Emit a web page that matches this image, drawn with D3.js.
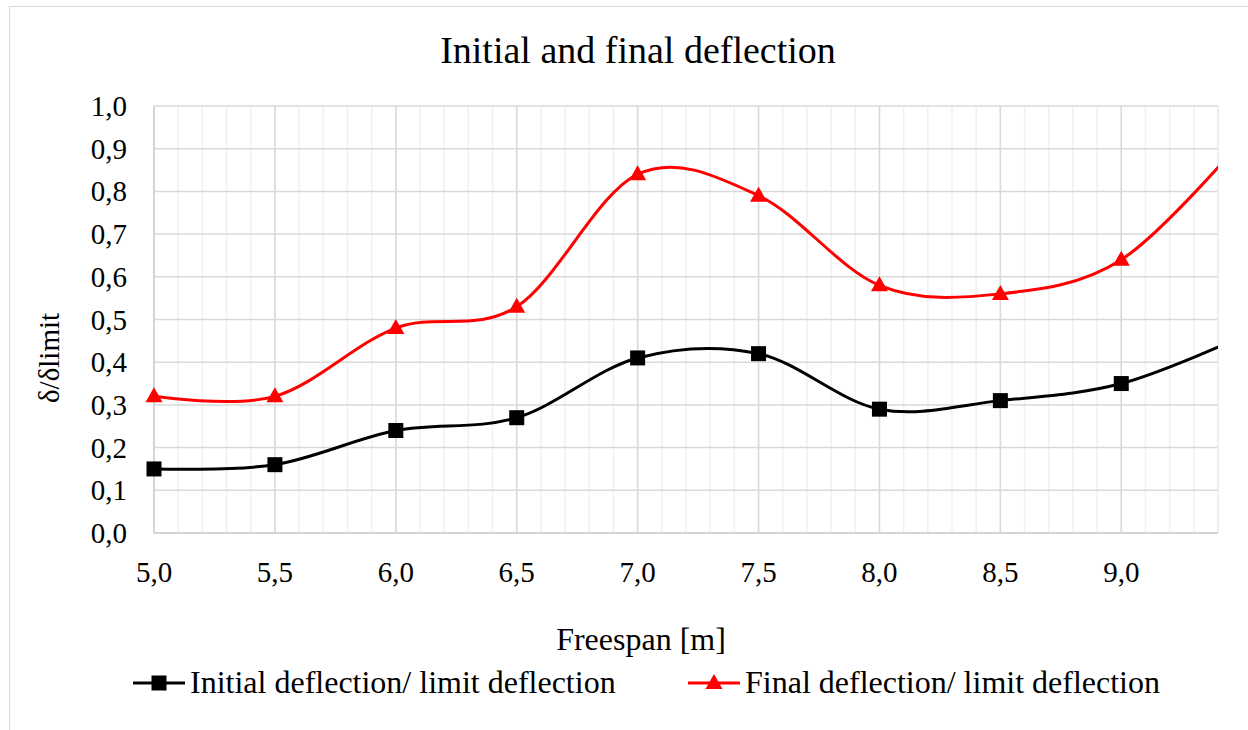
<!DOCTYPE html>
<html>
<head>
<meta charset="utf-8">
<script src="https://cdn.jsdelivr.net/npm/d3@7"></script>
<style>
  body { margin: 0; background: #fff; }
</style>
</head>
<body>
<svg id="chart"></svg>
<script>
let svgWidth = 1248, svgHeight = 730
let margin = { left: 154, right: 1218, top: 106, bottom: 533 }
let serif = "'Liberation Serif', 'Times New Roman', Times, 'DejaVu Serif', serif"

// data
let freespan = [5.0, 5.5, 6.0, 6.5, 7.0, 7.5, 8.0, 8.5, 9.0, 9.5]
let initialRatio = [0.15, 0.16, 0.24, 0.27, 0.41, 0.42, 0.29, 0.31, 0.35, 0.46]
let finalRatio = [0.32, 0.32, 0.48, 0.53, 0.84, 0.79, 0.58, 0.56, 0.64, 0.92]
let yTicks = [0, 0.1, 0.2, 0.3, 0.4, 0.5, 0.6, 0.7, 0.8, 0.9, 1.0]
let xTicks = [5.0, 5.5, 6.0, 6.5, 7.0, 7.5, 8.0, 8.5, 9.0]
let xMinor = d3.range(50, 95, 1).map(d => d / 10)

let svg = d3.select('#chart').attr('width', svgWidth).attr('height', svgHeight)

// chart border
svg.append('rect')
  .attr('x', 9.5).attr('y', 6.5).attr('width', 1300).attr('height', 800)
  .attr('fill', 'none').attr('stroke', '#d9d9d9').attr('stroke-width', 1)

let x = d3.scaleLinear().domain([5.0, 9.4]).range([margin.left, margin.right])
let y = d3.scaleLinear().domain([0, 1]).range([margin.bottom, margin.top])

const fmt = d => d.toFixed(1).replace('.', ',')

let g = svg.append('g')

// minor vertical gridlines
g.selectAll('.minor').data(xMinor).enter().append('line')
  .attr('x1', d => x(d)).attr('x2', d => x(d))
  .attr('y1', margin.top).attr('y2', margin.bottom)
  .attr('stroke', '#f0f0f0').attr('stroke-width', 1.5)

// horizontal gridlines
g.selectAll('.hgrid').data(yTicks).enter().append('line')
  .attr('x1', margin.left).attr('x2', margin.right)
  .attr('y1', d => y(d)).attr('y2', d => y(d))
  .attr('stroke', '#d9d9d9').attr('stroke-width', 1.5)

// major vertical gridlines
g.selectAll('.major').data(xTicks.concat([9.4])).enter().append('line')
  .attr('x1', d => x(d)).attr('x2', d => x(d))
  .attr('y1', margin.top).attr('y2', margin.bottom)
  .attr('stroke', d => d === 9.4 ? '#ececec' : '#d9d9d9').attr('stroke-width', 1.5)

// axis lines
g.append('line').attr('x1', margin.left).attr('x2', margin.left)
  .attr('y1', margin.top).attr('y2', margin.bottom).attr('stroke', '#d0d0d0').attr('stroke-width', 1.5)
g.append('line').attr('x1', margin.left).attr('x2', margin.right)
  .attr('y1', margin.bottom).attr('y2', margin.bottom).attr('stroke', '#d0d0d0').attr('stroke-width', 1.5)

// tick labels
g.selectAll('.ylab').data(yTicks).enter().append('text')
  .attr('x', 127).attr('y', d => y(d) + 10)
  .attr('text-anchor', 'end').style('font-family', serif).style('font-size', '29px')
  .text(fmt)

g.selectAll('.xlab').data(xTicks).enter().append('text')
  .attr('x', d => x(d)).attr('y', 582)
  .attr('text-anchor', 'middle').style('font-family', serif).style('font-size', '29px')
  .text(fmt)

// titles
svg.append('text').attr('x', 638).attr('y', 63).attr('text-anchor', 'middle')
  .style('font-family', serif).style('font-size', '38px').text('Initial and final deflection')
svg.append('text').attr('x', 641).attr('y', 650).attr('text-anchor', 'middle')
  .style('font-family', serif).style('font-size', '32px').text('Freespan [m]')
svg.append('text').attr('transform', 'translate(59,358) rotate(-90)').attr('text-anchor', 'middle')
  .style('font-family', serif).style('font-size', '29px').text('δ/δlimit')

// series
svg.append('clipPath').attr('id', 'plotClip').append('rect')
  .attr('x', margin.left - 10).attr('y', margin.top - 10)
  .attr('width', margin.right - margin.left + 10).attr('height', margin.bottom - margin.top + 20)

let line = d3.line().x(d => x(d[0])).y(d => y(d[1])).curve(d3.curveCardinal.tension(0))

let series = [
  { name: 'Initial deflection/ limit deflection', values: initialRatio, color: '#000000', marker: 'square' },
  { name: 'Final deflection/ limit deflection', values: finalRatio, color: '#ff0000', marker: 'triangle' }
]

let plot = svg.append('g').attr('clip-path', 'url(#plotClip)')
let markers = svg.append('g')

const drawMarker = (sel, s) => {
  if (s.marker === 'square') {
    sel.append('rect').attr('x', -7.5).attr('y', -7.5).attr('width', 15).attr('height', 15).attr('fill', s.color)
  } else {
    sel.append('path').attr('d', 'M0,-9 L8.5,6 L-8.5,6 Z').attr('fill', s.color)
  }
}

series.forEach(s => {
  let pts = freespan.map((f, i) => [f, s.values[i]])
  plot.append('path').datum(pts)
    .attr('d', line).attr('fill', 'none')
    .attr('stroke', s.color).attr('stroke-width', 3)
  pts.filter(p => p[0] <= 9.4).forEach(p => {
    let m = markers.append('g').attr('transform', `translate(${x(p[0])},${y(p[1])})`)
    drawMarker(m, s)
  })
})

// legend
let legendX = [133, 688]
series.forEach((s, i) => {
  let lg = svg.append('g').attr('transform', `translate(${legendX[i]},683)`)
  lg.append('line').attr('x1', 0).attr('x2', 52).attr('y1', 0).attr('y2', 0)
    .attr('stroke', s.color).attr('stroke-width', 3)
  let m = lg.append('g').attr('transform', 'translate(26,0)')
  drawMarker(m, s)
  lg.append('text').attr('x', 57).attr('y', 10)
    .style('font-family', serif).style('font-size', '32px').text(s.name)
})
</script>
</body>
</html>
